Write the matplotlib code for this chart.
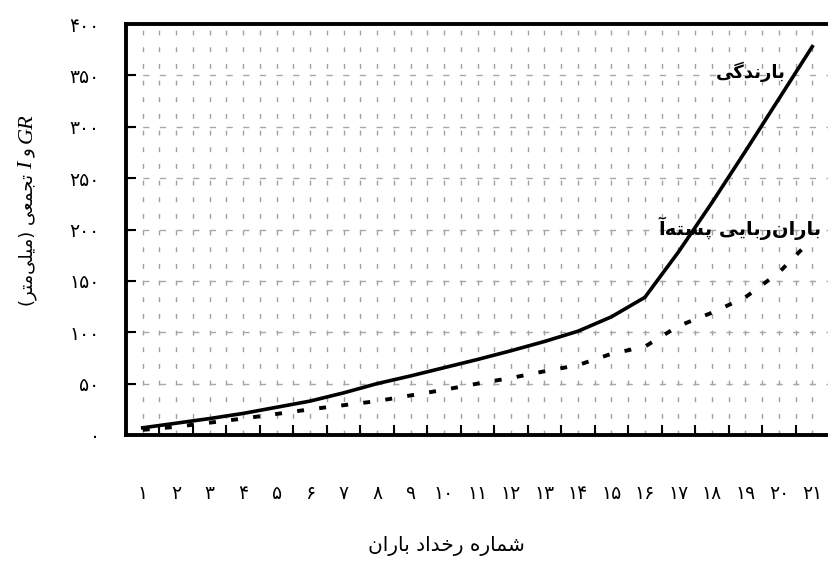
import matplotlib
matplotlib.use("Agg")
import matplotlib.pyplot as plt
from matplotlib.transforms import IdentityTransform
import numpy as np

# ---------------- data ----------------
events = list(range(1, 22))
rainfall_cum = [7, 11.5, 16, 21, 27, 33, 41, 50, 57.5, 65.5, 73.5, 82, 91, 101, 115, 134,
                178, 226, 276, 327, 378]
interception_cum = [5, 8, 12, 16, 20.5, 25, 29, 33, 38.5, 44, 50, 55.5, 62, 68, 79, 86,
                    106, 119, 134, 158, 191]
y_ticks = [0, 50, 100, 150, 200, 250, 300, 350, 400]

label_rain = "بارندگی"
label_interc = "باران‌ربایی پسته‌آ"
xlabel_text = "شماره رخداد باران"

# ---------------- simple Persian shaping ----------------
FORMS = {  # isol, fin, init, medi (None -> right-joining only)
    'ا': ('\uFE8D', '\uFE8E', None, None),
    'آ': ('\uFE81', '\uFE82', None, None),
    'ب': ('\uFE8F', '\uFE90', '\uFE91', '\uFE92'),
    'پ': ('\uFB56', '\uFB57', '\uFB58', '\uFB59'),
    'ت': ('\uFE95', '\uFE96', '\uFE97', '\uFE98'),
    'ج': ('\uFE9D', '\uFE9E', '\uFE9F', '\uFEA0'),
    'خ': ('\uFEA5', '\uFEA6', '\uFEA7', '\uFEA8'),
    'د': ('\uFEA9', '\uFEAA', None, None),
    'ر': ('\uFEAD', '\uFEAE', None, None),
    'س': ('\uFEB1', '\uFEB2', '\uFEB3', '\uFEB4'),
    'ش': ('\uFEB5', '\uFEB6', '\uFEB7', '\uFEB8'),
    'ع': ('\uFEC9', '\uFECA', '\uFECB', '\uFECC'),
    'گ': ('\uFB92', '\uFB93', '\uFB94', '\uFB95'),
    'ل': ('\uFEDD', '\uFEDE', '\uFEDF', '\uFEE0'),
    'م': ('\uFEE1', '\uFEE2', '\uFEE3', '\uFEE4'),
    'ن': ('\uFEE5', '\uFEE6', '\uFEE7', '\uFEE8'),
    'ه': ('\uFEE9', '\uFEEA', '\uFEEB', '\uFEEC'),
    'و': ('\uFEED', '\uFEEE', None, None),
    'ی': ('\uFBFC', '\uFBFD', '\uFBFE', '\uFBFF'),
}


def shape(word):
    out = []
    n = len(word)
    for i, c in enumerate(word):
        if c not in FORMS:
            if c != '\u200c':
                out.append(c)
            continue
        f = FORMS[c]
        prev = word[i - 1] if i > 0 else None
        nxt = word[i + 1] if i < n - 1 else None
        jp = prev in FORMS and FORMS[prev][2] is not None
        jn = f[2] is not None and nxt in FORMS
        if jp and jn:
            out.append(f[3])
        elif jp:
            out.append(f[1])
        elif jn:
            out.append(f[2])
        else:
            out.append(f[0])
    return ''.join(out)


def rtl(text):
    return shape(text)[::-1]


def fa_digits(v):
    return ''.join('۰۱۲۳۴۵۶۷۸۹'[int(ch)] for ch in str(v))


# ---------------- figure ----------------
plt.rcParams['font.family'] = ['DejaVu Sans']
plt.rcParams['lines.scale_dashes'] = False

fig = plt.figure(figsize=(8.29, 5.80), dpi=100)
ax = fig.add_axes([0.152, 0.25, 0.848, 0.7086])

ax.set_xlim(0.5, 21.5)
ax.set_ylim(0, 400)

# grid
for xv in np.arange(1.0, 21.51, 0.5):
    ax.axvline(xv, color='#a0a0a0', lw=1.0, dashes=(3.5, 8.5), zorder=1)
for yv in y_ticks[1:-1]:
    ax.axhline(yv, color='#a8a8a8', lw=1.0, dashes=(4.5, 7.5), zorder=1)

ax.plot(events, rainfall_cum, color='black', lw=2.6, zorder=3,
        solid_joinstyle='round')
ax.plot(events, interception_cum, color='black', lw=2.8, dashes=(5, 11), zorder=3)

# spines
for side in ['left', 'top', 'bottom']:
    ax.spines[side].set_linewidth(2.8)
    ax.spines[side].set_color('black')
ax.spines['right'].set_visible(False)

# ticks
ax.set_yticks(y_ticks)
ax.set_yticklabels([fa_digits(v) for v in y_ticks], fontsize=13.5)
ax.tick_params(axis='y', direction='in', length=7, width=1.5, pad=19)
ax.set_xticks(events)
ax.set_xticklabels([fa_digits(v) for v in events], fontsize=13.5)
ax.tick_params(axis='x', which='major', length=0, pad=35)
ax.set_xticks(np.arange(1.5, 21.0, 1.0), minor=True)
ax.tick_params(axis='x', which='minor', direction='in', length=7, width=1.5)

# x label
fig.text(446 / 829, 1 - 546 / 580, rtl(xlabel_text), fontsize=14.5, ha='center', va='center')

fig.canvas.draw()
renderer = fig.canvas.get_renderer()
H = fig.bbox.height

# series labels (pixel coordinates)
fig.text(786, H - 72, rtl(label_rain), transform=IdentityTransform(), fontsize=13,
         fontweight='bold', ha='right', va='center', zorder=5)
fig.text(821, H - 228, rtl(label_interc), transform=IdentityTransform(), fontsize=14,
         fontweight='bold', ha='right', va='center', zorder=5)

# y label made of pieces (bottom -> top in visual order)
paren = '(' + rtl('میلی‌متر') + ')'
pieces = [
    (paren + ' ' + rtl('تجمعی'), dict(family='DejaVu Sans', fontsize=13)),
    ('I', dict(family='Liberation Serif', style='italic', fontsize=16)),
    (rtl('و'), dict(family='DejaVu Sans', fontsize=13)),
    ('GR', dict(family='Liberation Serif', style='italic', fontsize=16)),
]
gap = 5
objs = []
lengths = []
for s, props in pieces:
    t = fig.text(0, 0, s, transform=IdentityTransform(), rotation=90,
                 rotation_mode='anchor', ha='left', va='baseline', **props)
    bb = t.get_window_extent(renderer)
    objs.append(t)
    lengths.append(bb.height)
total = sum(lengths) + gap * (len(pieces) - 1)
ycen = H - 210
xbase = 32
y = ycen - total / 2
for t, L in zip(objs, lengths):
    t.set_position((xbase, y))
    y += L + gap

fig.savefig('out.png', dpi=100)
